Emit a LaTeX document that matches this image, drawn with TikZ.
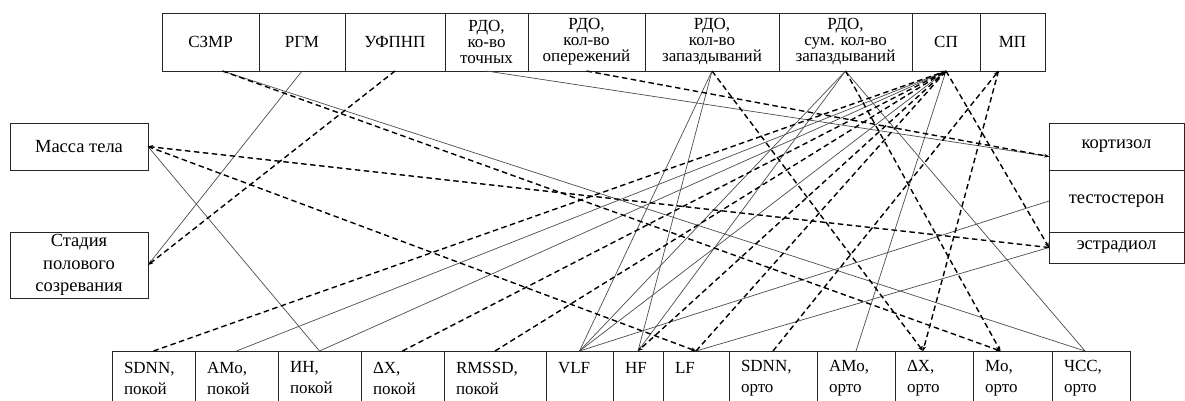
\documentclass[tikz,border=0pt]{standalone}
\usepackage{fontspec}
\setmainfont{Liberation Serif}
\usetikzlibrary{arrows.meta,positioning}
\tikzset{
  cell/.style = {draw=black!85, line width=0.8pt, inner sep=0pt, outer sep=0pt,
    align=center},
  tcell/.style = {cell, minimum height=58pt,
    font=\fontsize{17}{16}\selectfont},% top row
  bcell/.style = {cell, minimum height=54pt, text width=#1, inner xsep=12pt,
    align=left, font=\fontsize{17}{21}\selectfont},% bottom row
  sidebox/.style = {cell, minimum width=138pt,
    font=\fontsize{18.5}{22.5}\selectfont},% left and right boxes
  sline/.style = {draw=black!70, line width=0.7pt},% solid link
  dline/.style = {-{Stealth[length=5pt,width=4pt]}, line width=1.4pt,
    dash pattern=on 5.5pt off 3.5pt}% dashed link
}
\begin{document}
\begin{tikzpicture}[x=1pt, y=-1pt]
\useasboundingbox (0,0) rectangle (1185,401);
% top row
\node[tcell, minimum width=97pt, anchor=north west] (szmr) at (162,13) {СЗМР};
\node[tcell, minimum width=86pt, right=0pt of szmr] (rgm) {РГМ};
\node[tcell, minimum width=100pt, right=0pt of rgm] (ufpnp) {УФПНП};
\node[tcell, minimum width=83pt, right=0pt of ufpnp] (rdoA) {РДО,\\ко-во\\точных};
\node[tcell, minimum width=117pt, right=0pt of rdoA] (rdoB) {РДО,\\кол-во\\опережений};
\node[tcell, minimum width=134pt, right=0pt of rdoB] (rdoC) {РДО,\\кол-во\\запаздываний};
\node[tcell, minimum width=133pt, right=0pt of rdoC] (rdoD) {РДО,\\сум. кол-во\\запаздываний};
\node[tcell, minimum width=68pt, right=0pt of rdoD] (sp) {СП};
\node[tcell, minimum width=65pt, right=0pt of sp] (mp) {МП};
% left and right
\node[sidebox, minimum height=47pt, anchor=north west] (massa) at (10,123) {Масса тела};
\node[sidebox, minimum height=66pt, anchor=north west] (stadia) at (10,232) {Стадия\\полового\\созревания};
\node[sidebox, minimum width=135pt, minimum height=47pt, anchor=north west] (cort) at (1049,123) {кортизол};
\node[sidebox, minimum width=135pt, minimum height=62pt, below=0pt of cort] (testo) {тестостерон};
\node[sidebox, minimum width=135pt, minimum height=31pt, below=0pt of testo] (estr) {эстрадиол};
% bottom row
\node[bcell=59pt, anchor=north west] (sdnnP) at (112,351) {SDNN,\\покой};
\node[bcell=59pt, right=0pt of sdnnP] (amoP) {AMo,\\покой};
\node[bcell=59pt, right=0pt of amoP] (inP) {ИН,\\покой};
\node[bcell=59pt, right=0pt of inP] (dxP) {ΔX,\\покой};
\node[bcell=78pt, right=0pt of dxP] (rmssd) {RMSSD,\\покой};
\node[bcell=43pt, right=0pt of rmssd] (vlf) {VLF\\~};
\node[bcell=26pt, right=0pt of vlf] (hf) {HF\\~};
\node[bcell=42pt, right=0pt of hf] (lf) {LF\\~};
\node[bcell=64pt, right=0pt of lf] (sdnnO) {SDNN,\\орто};
\node[bcell=54pt, right=0pt of sdnnO] (amoO) {AMo,\\орто};
\node[bcell=54pt, right=0pt of amoO] (dxO) {ΔX,\\орто};
\node[bcell=55pt, right=0pt of dxO] (moO) {Mo,\\орто};
\node[bcell=54pt, right=0pt of moO] (chss) {ЧСС,\\орто};

% solid links
\draw[sline] ([xshift=12pt]szmr.south) -- ([xshift=-6pt]chss.north);
\draw[sline] (rgm.south) -- (stadia.east);
\draw[sline] (rdoA.south) -- ([yshift=-10pt]cort.west);
\draw[sline] (rdoC.south) -- (vlf.north);
\draw[sline] (rdoC.south) -- (hf.north);
\draw[sline] (rdoD.south) -- (vlf.north);
\draw[sline] (rdoD.south) -- (hf.north);
\draw[sline] (rdoD.south) -- ([xshift=-6pt]chss.north);
\draw[sline] (sp.south) -- (amoP.north);
\draw[sline] (sp.south) -- (inP.north);
\draw[sline] (sp.south) -- (vlf.north);
\draw[sline] (sp.south) -- (amoO.north);
\draw[sline] (massa.east) -- (inP.north);
\draw[sline] (vlf.north) -- (testo.west);
\draw[sline] (lf.north) -- (estr.west);

% dashed links
\draw[dline] (ufpnp.south) -- (stadia.east);
\draw[dline] (rdoB.south) -- ([yshift=-10pt]cort.west);
\draw[dline] ([xshift=12pt]szmr.south) -- ([xshift=-12pt]moO.north);
\draw[dline] (rdoD.south) -- ([xshift=-12pt]moO.north);
\draw[dline] (rdoC.south) -- ([xshift=-11pt]dxO.north);
\draw[dline] ([xshift=-14pt]mp.south) -- ([xshift=-11pt]dxO.north);
\draw[dline] (sdnnO.north) -- ([xshift=-14pt]mp.south);
\draw[dline] (sdnnP.north) -- (sp.south);
\draw[dline] (dxP.north) -- (sp.south);
\draw[dline] (rmssd.north) -- (sp.south);
\draw[dline] (lf.north) -- (sp.south);
\draw[dline] (sp.south) -- (hf.north);
\draw[dline] (sp.south) -- (estr.west);
\draw[dline] (estr.west) -- (massa.east);
\draw[dline] (massa.east) -- (lf.north);
\end{tikzpicture}
\end{document}
